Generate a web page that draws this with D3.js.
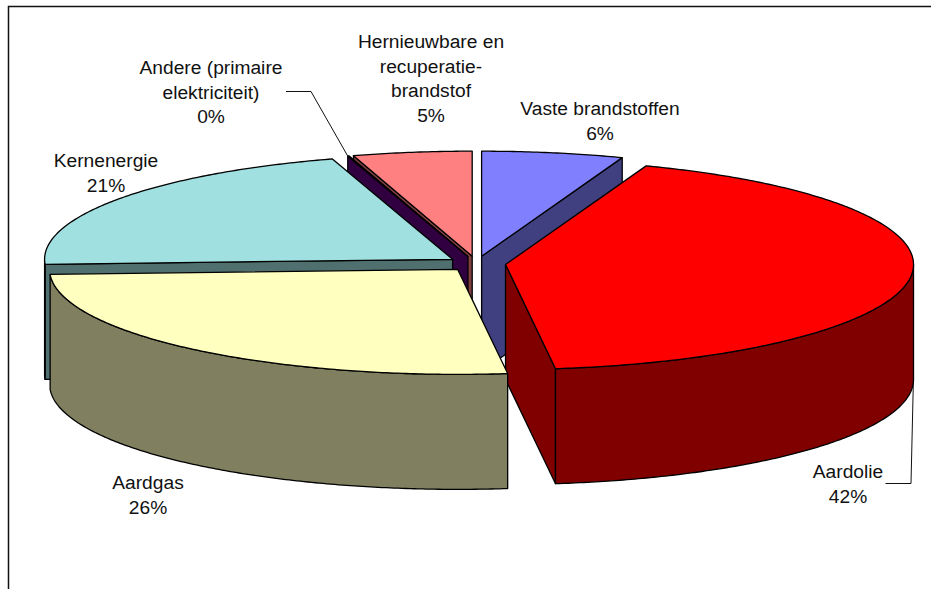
<!DOCTYPE html>
<html>
<head>
<meta charset="utf-8">
<script src="https://cdn.jsdelivr.net/npm/d3@7"></script>
<style>
  html, body { margin: 0; padding: 0; background: #fff; }
  svg { display: block; }
  text { font-family: "Liberation Sans", Arial, sans-serif; font-size: 19.2px; fill: #111; }
</style>
</head>
<body>
<script>
// data, clockwise from 12 o'clock
const categories = [
  "Vaste brandstoffen",
  "Aardolie",
  "Aardgas",
  "Kernenergie",
  "Andere (primaire elektriciteit)",
  "Hernieuwbare en recuperatie-brandstof"
];
const shares = [5.6, 42.45, 26.2, 21.0, 0.06, 4.7];

const labelBreaks = [
  ["Vaste brandstoffen"],
  ["Aardolie"],
  ["Aardgas"],
  ["Kernenergie"],
  ["Andere (primaire", "elektriciteit)"],
  ["Hernieuwbare en", "recuperatie-", "brandstof"]
];

// styles and layout
const topColors = ["#8080ff", "#ff0000", "#ffffc0", "#a0e0e0", "#600080", "#ff8080"],
  sideColors = ["#404080", "#800000", "#808060", "#507070", "#300040", "#804040"],
  labelX = [600, 848, 148, 106, 211, 431],
  labelY = [115, 478, 489, 167, 74, 48],
  lineHeight = 24.7,
  width = 931,
  height = 589,
  centerX = 476.5,
  centerY = 263.6,
  radiusX = 408,
  radiusY = 105,
  depth = 115,
  explode = 0.0716,
  strokeWidth = 1.3;

// paint order, back to front
const paintOrder = [0, 5, 4, 3, 1, 2];

const x = d3.scaleLinear().domain([-1, 1]).range([centerX - radiusX, centerX + radiusX]);
const y = d3.scaleLinear().domain([-1, 1]).range([centerY + radiusY, centerY - radiusY]);

const slices = d3.pie().sort(null).value((d) => d)(shares);

const svg = d3.select("body").append("svg").attr("width", width).attr("height", height);

// chart frame, only top and left are in the picture
svg.append("path")
  .attr("d", `M8.5,${height}V6.5H${width}`)
  .attr("fill", "none")
  .attr("stroke", "#111")
  .attr("stroke-width", 1.5);

const line = d3.line();

// rim point of a slice, angle in radians from 12 o'clock
function rim(slice, a, drop = 0) {
  const mid = (slice.startAngle + slice.endAngle) / 2;
  const ux = explode * Math.sin(mid) + Math.sin(a);
  const uy = explode * Math.cos(mid) + Math.cos(a);
  return [x(ux), y(uy) + drop];
}

function apex(slice, drop = 0) {
  const mid = (slice.startAngle + slice.endAngle) / 2;
  return [x(explode * Math.sin(mid)), y(explode * Math.cos(mid)) + drop];
}

function arcPoints(slice, a0, a1, drop = 0) {
  const n = Math.max(2, Math.ceil(Math.abs(a1 - a0) / 0.01));
  return d3.range(n + 1).map((i) => rim(slice, a0 + ((a1 - a0) * i) / n, drop));
}

const chart = svg.append("g")
  .attr("stroke", "#000")
  .attr("stroke-width", strokeWidth)
  .attr("stroke-linejoin", "round");

paintOrder.forEach((i) => {
  const s = slices[i];
  const g = chart.append("g");
  const side = sideColors[i];

  // cut faces, only the ones that turn towards the viewer
  [s.startAngle, s.endAngle].forEach((a, k) => {
    const visible = k === 0 ? Math.sin(a) < 0 : Math.sin(a) > 0;
    if (!visible) return;
    g.append("path")
      .attr("fill", side)
      .attr("d", line([apex(s), rim(s, a), rim(s, a, depth), apex(s, depth)]) + "Z");
  });

  // outer wall, front half of the ellipse
  const a0 = Math.max(s.startAngle, Math.PI / 2);
  const a1 = Math.min(s.endAngle, (3 * Math.PI) / 2);
  if (a1 > a0) {
    g.append("path")
      .attr("fill", side)
      .attr("d", line([...arcPoints(s, a0, a1), ...arcPoints(s, a1, a0, depth)]) + "Z");
  }

  // top
  g.append("path")
    .attr("fill", topColors[i])
    .attr("d", line([apex(s), ...arcPoints(s, s.startAngle, s.endAngle)]) + "Z");
});

// leader lines
const andere = slices[4];
const aardolie = slices[1];
const andereEnd = rim(andere, andere.startAngle);
const aardolieEnd = rim(aardolie, Math.PI / 2 + 0.03, depth);

svg.append("path")
  .attr("fill", "none")
  .attr("stroke", "#111")
  .attr("d", line([[286, 91.5], [311, 91.5], andereEnd]));

svg.append("path")
  .attr("fill", "none")
  .attr("stroke", "#111")
  .attr("d", line([[885.5, 483.5], [911, 483.5], aardolieEnd]));

// labels
categories.forEach((name, i) => {
  const lines = [...labelBreaks[i], `${d3.format(".0f")(shares[i])}%`];
  const t = svg.append("text")
    .attr("text-anchor", "middle")
    .attr("data-category", name);
  t.selectAll("tspan")
    .data(lines)
    .join("tspan")
    .attr("x", labelX[i])
    .attr("y", (d, k) => labelY[i] + k * lineHeight)
    .text((d) => d);
});
</script>
</body>
</html>
